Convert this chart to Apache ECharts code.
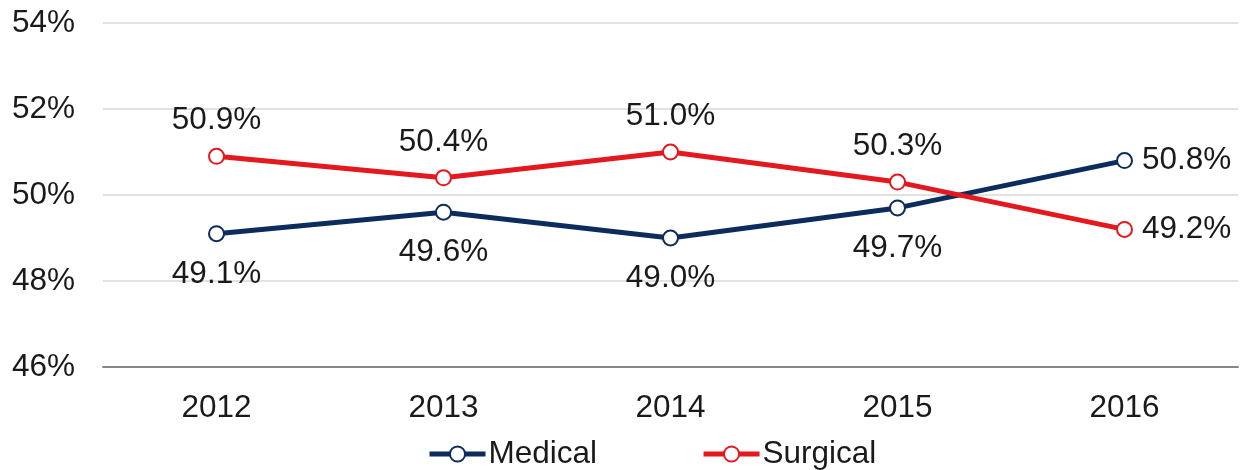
<!DOCTYPE html>
<html>
<head>
<meta charset="utf-8">
<script src="https://cdn.jsdelivr.net/npm/echarts@6/dist/echarts.min.js"></script>
<style>
  html, body { margin: 0; padding: 0; background: #fff; }
  #chart { width: 1240px; height: 470px; }
</style>
</head>
<body>
<div id="chart"></div>
<script>
var years = ['2012', '2013', '2014', '2015', '2016'];
var medical = [49.1, 49.6, 49.0, 49.7, 50.8];
var surgical = [50.9, 50.4, 51.0, 50.3, 49.2];
var yTicks = [46, 48, 50, 52, 54];

var font = 'Liberation Sans, Arial, sans-serif';
var fsize = 31.5;

function labelFor(pos, dist) {
    return {
        show: true,
        position: pos,
        distance: dist,
        fontFamily: font,
        fontSize: fsize,
        color: '#1a1a1a',
        formatter: function (p) { return p.value.toFixed(1) + '%'; }
    };
}

// last point of each series gets its label on the right
function withLastRight(data) {
    return data.map(function (v, i) {
        if (i === data.length - 1) {
            return { value: v, label: { position: 'right', distance: 9 } };
        }
        return v;
    });
}

var option = {
    animation: false,
    grid: { left: 103, right: 2, top: 23, bottom: 103 },
    legend: {
        top: 433,
        left: 422,
        itemWidth: 56,
        itemHeight: 19,
        itemGap: 104,
        lineStyle: { width: 5 },
        textStyle: { fontFamily: font, fontSize: fsize, color: '#1a1a1a', padding: [0, 0, 0, -2] },
        data: ['Medical', 'Surgical']
    },
    xAxis: {
        type: 'category',
        data: years,
        axisLine: { lineStyle: { color: '#888', width: 2 } },
        axisTick: { show: false },
        axisLabel: { fontFamily: font, fontSize: fsize, color: '#1a1a1a', margin: 25 }
    },
    yAxis: {
        type: 'value',
        min: yTicks[0],
        max: yTicks[yTicks.length - 1],
        interval: 2,
        axisLine: { show: false },
        axisTick: { show: false },
        splitLine: { lineStyle: { color: '#d9d9d9', width: 1.5 } },
        axisLabel: {
            fontFamily: font, fontSize: fsize, color: '#1a1a1a',
            align: 'left', margin: 91,
            formatter: '{value}%'
        }
    },
    series: [
        {
            name: 'Medical',
            type: 'line',
            data: withLastRight(medical),
            symbol: 'circle',
            symbolSize: 15,
            lineStyle: { color: '#0b2c5c', width: 5 },
            itemStyle: { color: '#fff', borderColor: '#0b2c5c', borderWidth: 2 },
            label: labelFor('bottom', 16)
        },
        {
            name: 'Surgical',
            type: 'line',
            data: withLastRight(surgical),
            symbol: 'circle',
            symbolSize: 15,
            lineStyle: { color: '#e3191f', width: 5 },
            itemStyle: { color: '#fff', borderColor: '#e3191f', borderWidth: 2 },
            label: labelFor('top', 11)
        }
    ]
};

var myChart = echarts.init(document.getElementById('chart'));
myChart.setOption(option);
</script>
</body>
</html>
